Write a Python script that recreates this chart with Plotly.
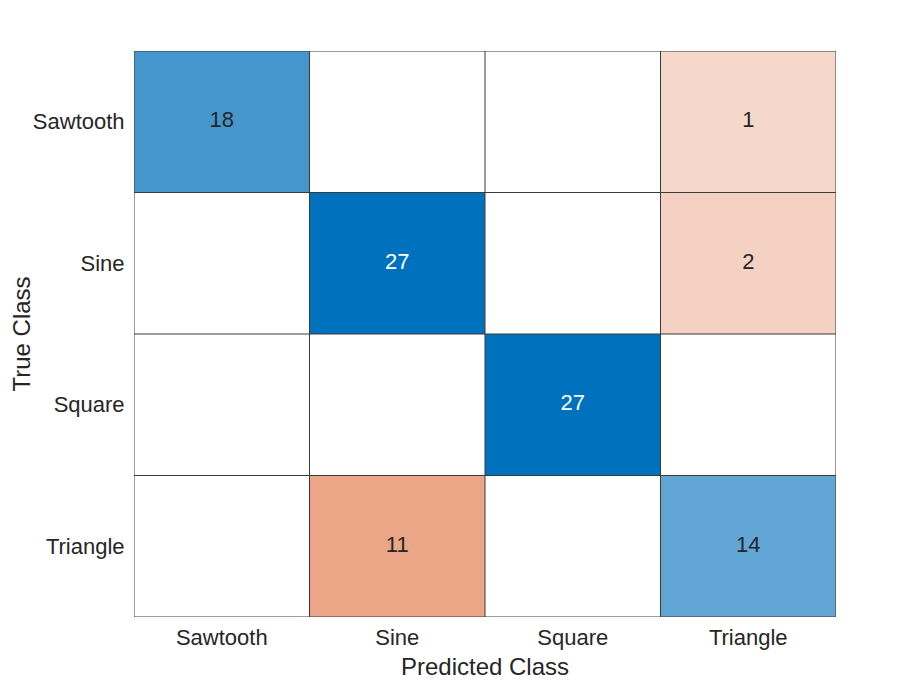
import plotly.graph_objects as go

classes = ["Sawtooth", "Sine", "Square", "Triangle"]
# rows = true class, cols = predicted class
counts = [
    [18, 0, 0, 1],
    [0, 27, 0, 2],
    [0, 0, 27, 0],
    [0, 11, 0, 14],
]

n = len(classes)
diag_max = max(counts[i][i] for i in range(n))
off_max = max(counts[i][j] for i in range(n) for j in range(n) if i != j)

z_diag = [[(counts[i][j] if (i == j and counts[i][j] > 0) else None) for j in range(n)] for i in range(n)]
z_off = [[(counts[i][j] if (i != j and counts[i][j] > 0) else None) for j in range(n)] for i in range(n)]

blue_scale = [[0, "#ffffff"], [14 / 27, "#62A6D5"], [18 / 27, "#4596CD"], [1, "#0072BD"]]
red_scale = [[0, "#ffffff"], [1 / 11, "#F5D8CA"], [2 / 11, "#F4D1C3"], [1, "#EBA587"]]

fig = go.Figure()
fig.add_trace(go.Heatmap(x=list(range(n)), y=list(range(n)), z=z_diag, colorscale=blue_scale,
                         zmin=0, zmax=diag_max, showscale=False, hoverinfo="skip"))
fig.add_trace(go.Heatmap(x=list(range(n)), y=list(range(n)), z=z_off, colorscale=red_scale,
                         zmin=0, zmax=off_max, showscale=False, hoverinfo="skip"))

tx, ty, tt, tc = [], [], [], []
for i in range(n):
    for j in range(n):
        v = counts[i][j]
        if v > 0:
            tx.append(j)
            ty.append(i)
            tt.append(str(v))
            tc.append("#ffffff" if (i == j and v / diag_max > 0.8) else "#262626")
fig.add_trace(go.Scatter(x=tx, y=ty, text=tt, mode="text",
                         textfont=dict(color=tc, size=22, family="Liberation Sans, Arial"),
                         hoverinfo="skip", showlegend=False))

shapes = []
for k in range(n + 1):
    b = k - 0.5
    shapes.append(dict(type="line", xref="x", yref="y", x0=b, x1=b, y0=-0.5, y1=n - 0.5,
                       line=dict(color="#3a3a3a", width=1), layer="above"))
    shapes.append(dict(type="line", xref="x", yref="y", x0=-0.5, x1=n - 0.5, y0=b, y1=b,
                       line=dict(color="#3a3a3a", width=1), layer="above"))

fig.update_layout(
    width=924, height=693,
    margin=dict(l=126, r=96, t=43, b=84),
    paper_bgcolor="white", plot_bgcolor="white",
    shapes=shapes,
    font=dict(family="Liberation Sans, Arial", color="#262626", size=22),
    showlegend=False,
)
fig.update_xaxes(range=[-0.5, n - 0.5], tickvals=list(range(n)), ticktext=classes,
                 showgrid=False, zeroline=False, ticks="outside", ticklen=1, tickcolor="rgba(0,0,0,0)",
                 tickfont=dict(size=22), automargin=False,
                 title=dict(text="Predicted Class", font=dict(size=24), standoff=8), fixedrange=True)
fig.update_yaxes(range=[n - 0.5, -0.5], tickvals=list(range(n)), ticktext=classes,
                 showgrid=False, zeroline=False, ticks="outside", ticklen=4, tickcolor="rgba(0,0,0,0)",
                 tickfont=dict(size=22), automargin=False,
                 title=dict(text="True Class", font=dict(size=24), standoff=22), fixedrange=True)

fig.write_html("out.html")
